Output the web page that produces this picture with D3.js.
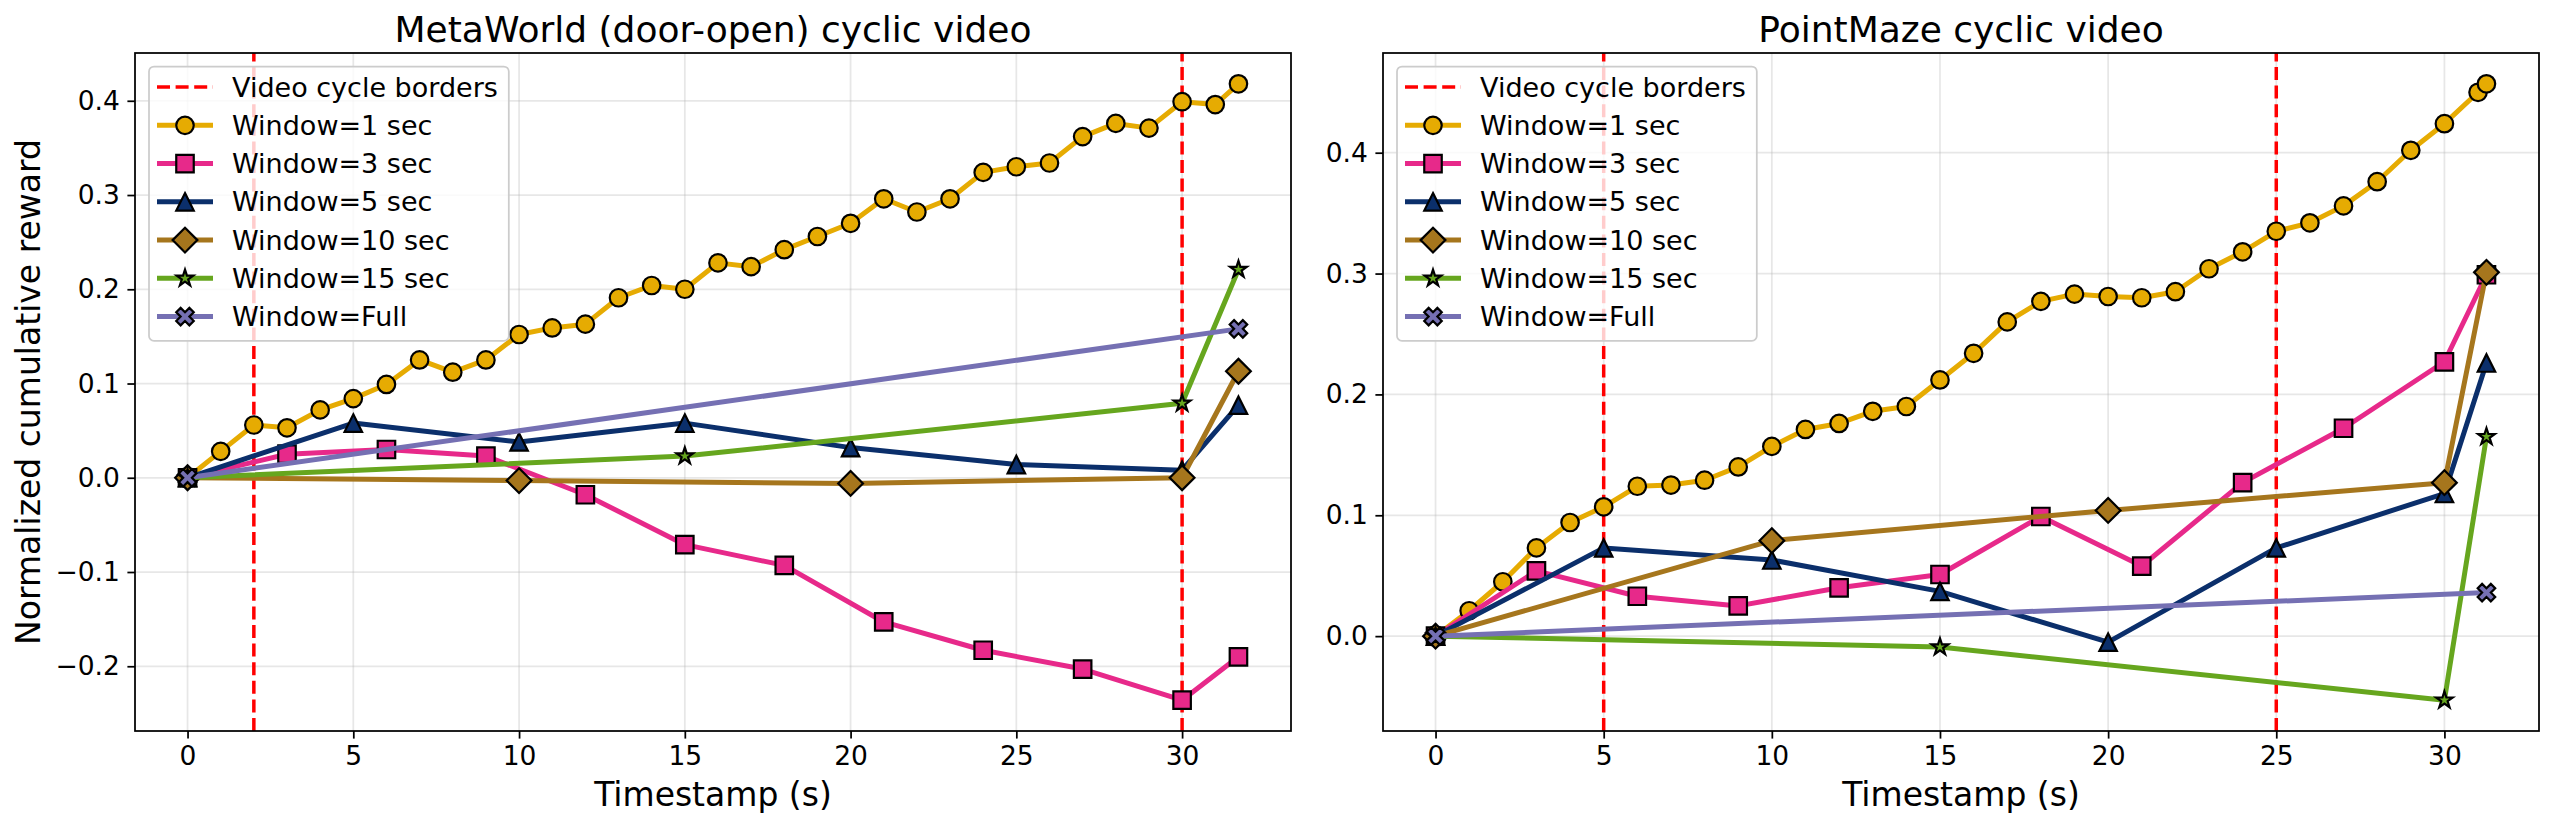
<!DOCTYPE html>
<html>
<head>
<meta charset="utf-8">
<script src="https://cdn.jsdelivr.net/npm/d3@7"></script>
<style>
  body { margin: 0; background: #fff; }
  svg { display: block; }
</style>
</head>
<body>
<div id="chart"></div>
<script>
// series look (shared by both panels)
const seriesNames = ["Window=1 sec", "Window=3 sec", "Window=5 sec", "Window=10 sec", "Window=15 sec", "Window=Full"];
const seriesColors = ["#e6ab02", "#e7298a", "#0b2f6b", "#a6761d", "#66a61e", "#7570b3"];
const seriesMarkers = ["circle", "square", "triangle", "diamond", "star", "xfilled"];
const borderLabel = "Video cycle borders";
const xTicks = [0, 5, 10, 15, 20, 25, 30];

// MetaWorld (door-open)
const metaTitle = "MetaWorld (door-open) cyclic video";
const metaBorders = [2, 30];
const metaYTicks = [-0.2, -0.1, 0.0, 0.1, 0.2, 0.3, 0.4];
const metaT1 = [0, 1, 2, 3, 4, 5, 6, 7, 8, 9, 10, 11, 12, 13, 14, 15, 16, 17, 18, 19, 20, 21, 22, 23, 24, 25, 26, 27, 28, 29, 30, 31, 31.7];
const metaW1 = [0, 0.028, 0.056, 0.053, 0.072, 0.084, 0.099, 0.125, 0.112, 0.125, 0.152, 0.159, 0.163, 0.191, 0.204, 0.200, 0.228, 0.224, 0.242, 0.256, 0.270, 0.296, 0.282, 0.296, 0.324, 0.330, 0.334, 0.362, 0.376, 0.371, 0.399, 0.396, 0.418];
const metaT3 = [0, 3, 6, 9, 12, 15, 18, 21, 24, 27, 30, 31.7];
const metaW3 = [0, 0.025, 0.030, 0.023, -0.018, -0.071, -0.093, -0.153, -0.183, -0.203, -0.236, -0.190];
const metaT5 = [0, 5, 10, 15, 20, 25, 30, 31.7];
const metaW5 = [0, 0.058, 0.038, 0.058, 0.032, 0.014, 0.008, 0.077];
const metaT10 = [0, 10, 20, 30, 31.7];
const metaW10 = [0, -0.003, -0.006, 0.0, 0.113];
const metaT15 = [0, 15, 30, 31.7];
const metaW15 = [0, 0.023, 0.079, 0.221];
const metaTF = [0, 31.7];
const metaWF = [0, 0.158];

// PointMaze
const mazeTitle = "PointMaze cyclic video";
const mazeBorders = [5, 25];
const mazeYTicks = [0.0, 0.1, 0.2, 0.3, 0.4];
const mazeT1 = [0, 1, 2, 3, 4, 5, 6, 7, 8, 9, 10, 11, 12, 13, 14, 15, 16, 17, 18, 19, 20, 21, 22, 23, 24, 25, 26, 27, 28, 29, 30, 31, 31.25];
const mazeW1 = [0, 0.021, 0.045, 0.073, 0.094, 0.107, 0.124, 0.125, 0.129, 0.140, 0.157, 0.171, 0.176, 0.186, 0.190, 0.212, 0.234, 0.260, 0.277, 0.283, 0.281, 0.280, 0.285, 0.304, 0.318, 0.335, 0.342, 0.356, 0.376, 0.402, 0.424, 0.450, 0.457];
const mazeT3 = [0, 3, 6, 9, 12, 15, 18, 21, 24, 27, 30, 31.25];
const mazeW3 = [0, 0.054, 0.033, 0.025, 0.040, 0.051, 0.099, 0.058, 0.127, 0.172, 0.227, 0.299];
const mazeT5 = [0, 5, 10, 15, 20, 25, 30, 31.25];
const mazeW5 = [0, 0.073, 0.063, 0.037, -0.005, 0.073, 0.118, 0.226];
const mazeT10 = [0, 10, 20, 30, 31.25];
const mazeW10 = [0, 0.079, 0.104, 0.127, 0.301];
const mazeT15 = [0, 15, 30, 31.25];
const mazeW15 = [0, -0.009, -0.053, 0.165];
const mazeTF = [0, 31.25];
const mazeWF = [0, 0.036];

const yLabel = "Normalized cumulative reward";
const xLabel = "Timestamp (s)";

const W = 2554, H = 826;
const FONT = "'DejaVu Sans', 'Liberation Sans', sans-serif";
const MS = 17.5; // marker size (px)
const LW = 5; // line width
const SPINE = 1.75;

const svg = d3
  .select("#chart")
  .append("svg")
  .attr("width", W)
  .attr("height", H)
  .style("font-family", FONT);

svg.append("rect").attr("width", W).attr("height", H).attr("fill", "#fff");

// matplotlib-like marker shapes, centred on 0,0
function markerPath(kind, m) {
  const h = m / 2;
  if (kind === "circle") {
    return `M${h},0A${h},${h} 0 1,1 ${-h},0A${h},${h} 0 1,1 ${h},0Z`;
  }
  if (kind === "square") {
    return `M${-h},${-h}H${h}V${h}H${-h}Z`;
  }
  if (kind === "triangle") {
    return `M0,${-h}L${h},${h}L${-h},${h}Z`;
  }
  if (kind === "diamond") {
    const d = m * Math.SQRT1_2;
    return `M0,${-d}L${d},0L0,${d}L${-d},0Z`;
  }
  if (kind === "star") {
    const pts = [];
    for (let k = 0; k < 10; k++) {
      const r = k % 2 === 0 ? h : h * 0.381966;
      const a = Math.PI / 2 + (k * Math.PI) / 5;
      pts.push([r * Math.cos(a), -r * Math.sin(a)]);
    }
    return "M" + pts.map((p) => p.join(",")).join("L") + "Z";
  }
  // filled X
  const v = [[0.25, 0], [0.5, 0.25], [0.75, 0], [1, 0.25], [0.75, 0.5], [1, 0.75], [0.75, 1], [0.5, 0.75], [0.25, 1], [0, 0.75], [0.25, 0.5], [0, 0.25]];
  return "M" + v.map((p) => [(p[0] - 0.5) * m, (p[1] - 0.5) * m].join(",")).join("L") + "Z";
}

function drawPanel(p) {
  const g = svg.append("g");
  const allT = p.series.flatMap((s) => s.t);
  const allV = p.series.flatMap((s) => s.v);
  const [tMin, tMax] = d3.extent(allT);
  const [vMin, vMax] = d3.extent(allV);
  const tPad = (tMax - tMin) * 0.05;
  const vPad = (vMax - vMin) * 0.05;

  const x = d3.scaleLinear().domain([tMin - tPad, tMax + tPad]).range([p.left, p.right]);
  const y = d3.scaleLinear().domain([vMin - vPad, vMax + vPad]).range([p.bottom, p.top]);

  // grid
  const grid = g.append("g").attr("stroke", "#b0b0b0").attr("stroke-opacity", 0.3).attr("stroke-width", 1.75);
  grid.selectAll(".gx").data(xTicks).join("line")
    .attr("x1", (d) => x(d)).attr("x2", (d) => x(d))
    .attr("y1", p.top).attr("y2", p.bottom);
  grid.selectAll(".gy").data(p.yTicks).join("line")
    .attr("y1", (d) => y(d)).attr("y2", (d) => y(d))
    .attr("x1", p.left).attr("x2", p.right);

  // cycle borders
  g.append("g").selectAll("line").data(p.borders).join("line")
    .attr("x1", (d) => x(d)).attr("x2", (d) => x(d))
    .attr("y1", p.bottom).attr("y2", p.top)
    .attr("stroke", "#ff0000")
    .attr("stroke-width", 3.5)
    .attr("stroke-dasharray", "13,5.6");

  // series: line then markers, in legend order
  const line = d3.line().x((d) => x(d[0])).y((d) => y(d[1]));
  p.series.forEach((s, i) => {
    const pts = s.t.map((t, j) => [t, s.v[j]]);
    g.append("path")
      .datum(pts)
      .attr("fill", "none")
      .attr("stroke", seriesColors[i])
      .attr("stroke-width", LW)
      .attr("stroke-linejoin", "round")
      .attr("stroke-linecap", "butt")
      .attr("d", line);
    g.append("g").selectAll("path").data(pts).join("path")
      .attr("transform", (d) => `translate(${x(d[0])},${y(d[1])})`)
      .attr("d", markerPath(seriesMarkers[i], MS))
      .attr("fill", seriesColors[i])
      .attr("stroke", "#000")
      .attr("stroke-width", 2.2)
      .attr("stroke-linejoin", "miter");
  });

  // axes
  const xAxis = g.append("g")
    .attr("transform", `translate(0,${p.bottom})`)
    .call(d3.axisBottom(x).tickValues(xTicks).tickSize(7.6).tickPadding(7.6).tickFormat(d3.format("d")));
  const yAxis = g.append("g")
    .attr("transform", `translate(${p.left},0)`)
    .call(d3.axisLeft(y).tickValues(p.yTicks).tickSize(7.6).tickPadding(7.6).tickFormat(d3.format(".1f")));
  [xAxis, yAxis].forEach((a) => {
    a.select(".domain").remove();
    a.selectAll("line").attr("stroke", "#000").attr("stroke-width", SPINE);
    a.selectAll("text").attr("fill", "#000").attr("font-size", 26.5).attr("font-family", FONT);
  });

  // spines
  g.append("rect")
    .attr("x", p.left).attr("y", p.top)
    .attr("width", p.right - p.left).attr("height", p.bottom - p.top)
    .attr("fill", "none").attr("stroke", "#000").attr("stroke-width", SPINE);

  // title + labels
  const cx = (p.left + p.right) / 2;
  g.append("text").attr("x", cx).attr("y", 42).attr("text-anchor", "middle")
    .attr("font-size", 36).attr("fill", "#000").text(p.title);
  g.append("text").attr("x", cx).attr("y", 806).attr("text-anchor", "middle")
    .attr("font-size", 33).attr("fill", "#000").text(xLabel);
  if (p.yLabel) {
    g.append("text")
      .attr("transform", `translate(40,${(p.top + p.bottom) / 2}) rotate(-90)`)
      .attr("text-anchor", "middle")
      .attr("font-size", 33).attr("fill", "#000").text(p.yLabel);
  }

  // legend
  const lg = g.append("g");
  const bx = p.left + 14, by = p.top + 13.5, rowH = 38.25, row0 = 20.6;
  const box = lg.append("rect")
    .attr("x", bx).attr("y", by).attr("rx", 5).attr("ry", 5)
    .attr("height", row0 + 6 * rowH + 24.3)
    .attr("fill", "rgba(255,255,255,0.8)")
    .attr("stroke", "#cccccc").attr("stroke-width", 1.75);
  const hx0 = p.left + 22, hx1 = p.left + 78, tx = p.left + 97;
  const labels = [borderLabel].concat(seriesNames);
  let maxW = 0;
  labels.forEach((lab, k) => {
    const cy = by + row0 + k * rowH;
    if (k === 0) {
      lg.append("line").attr("x1", hx0).attr("x2", hx1).attr("y1", cy).attr("y2", cy)
        .attr("stroke", "#ff0000").attr("stroke-width", 3.5).attr("stroke-dasharray", "13,5.6");
    } else {
      const i = k - 1;
      lg.append("line").attr("x1", hx0).attr("x2", hx1).attr("y1", cy).attr("y2", cy)
        .attr("stroke", seriesColors[i]).attr("stroke-width", LW);
      lg.append("path")
        .attr("transform", `translate(${(hx0 + hx1) / 2},${cy})`)
        .attr("d", markerPath(seriesMarkers[i], MS))
        .attr("fill", seriesColors[i]).attr("stroke", "#000").attr("stroke-width", 2.2);
    }
    const t = lg.append("text").attr("x", tx).attr("y", cy + 9.6)
      .attr("font-size", 27).attr("fill", "#000").text(lab);
    maxW = Math.max(maxW, t.node().getComputedTextLength());
  });
  box.attr("width", tx - bx + maxW + 11);
}

drawPanel({
  title: metaTitle, yLabel: yLabel, borders: metaBorders, yTicks: metaYTicks,
  left: 135, right: 1291, top: 53, bottom: 731,
  series: [
    { t: metaT1, v: metaW1 }, { t: metaT3, v: metaW3 }, { t: metaT5, v: metaW5 },
    { t: metaT10, v: metaW10 }, { t: metaT15, v: metaW15 }, { t: metaTF, v: metaWF },
  ],
});

drawPanel({
  title: mazeTitle, yLabel: null, borders: mazeBorders, yTicks: mazeYTicks,
  left: 1383, right: 2539, top: 53, bottom: 731,
  series: [
    { t: mazeT1, v: mazeW1 }, { t: mazeT3, v: mazeW3 }, { t: mazeT5, v: mazeW5 },
    { t: mazeT10, v: mazeW10 }, { t: mazeT15, v: mazeW15 }, { t: mazeTF, v: mazeWF },
  ],
});
</script>
</body>
</html>
